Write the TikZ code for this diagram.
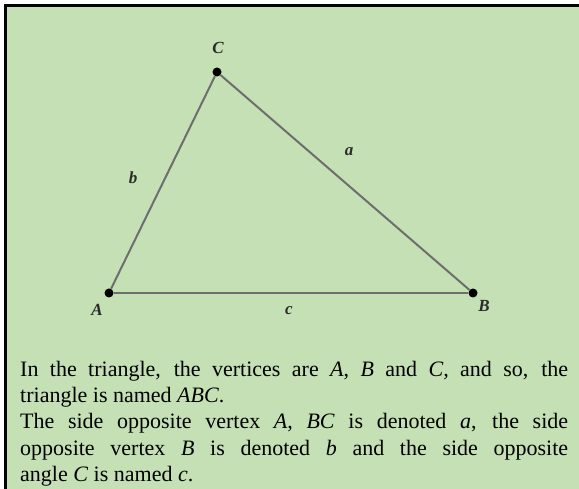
\documentclass[tikz,border=0pt]{standalone}
\usepackage{fontspec}
\setmainfont{Liberation Serif}
\usetikzlibrary{positioning}
\definecolor{leaf}{HTML}{C5E0B4}
\definecolor{edge}{HTML}{6E6E6E}
\definecolor{ink}{HTML}{2B2B2B}

\begin{document}
\begin{tikzpicture}[x=1pt,y=-1pt,
 vdot/.style={circle,fill=black,inner sep=0pt,minimum size=9pt},
 lbl/.style={font=\fontsize{17}{17}\selectfont\bfseries\itshape,text=ink,inner sep=0pt},
 side/.style={draw=edge,line width=2pt}]
\useasboundingbox (0,0) rectangle (579,489);
\fill[leaf] (5,5) rectangle (579,489);
\draw[line width=3pt] (5.5,489) -- (5.5,5.5) -- (579,5.5);
% vertices
\node[vdot] (A) at (109,293) {};
\node[vdot] (B) at (473,293) {};
\node[vdot] (C) at (217,72) {};
\draw[side] (A) -- (B);\draw[side] (B) -- (C);\draw[side] (C) -- (A);
% labels
\node[lbl] (labA) at (97,310) {A};
\node[lbl] (labB) at (484,306) {B};
\node[lbl] (labC) at (218,48) {C};
\node[lbl] (laba) at (349,152) {a};
\node[lbl] (labb) at (133,178) {b};
\node[lbl] (labc) at (289,311) {c};
% caption text
\node[anchor=north west,inner sep=0pt,text width=548pt,align=justify,
 font=\fontsize{22}{26.2}\selectfont] (caption) at (20,361)
 {In the triangle, the vertices are \textit{A}, \textit{B} and \textit{C,} and so, the\linebreak
 triangle is named \textit{ABC}.\par
 The side opposite vertex \textit{A}, \textit{BC} is denoted \textit{a}, the side\linebreak
 opposite vertex \textit{B} is denoted \textit{b} and the side opposite\linebreak
 angle \textit{C} is named \textit{c}.};
\end{tikzpicture}
\end{document}
